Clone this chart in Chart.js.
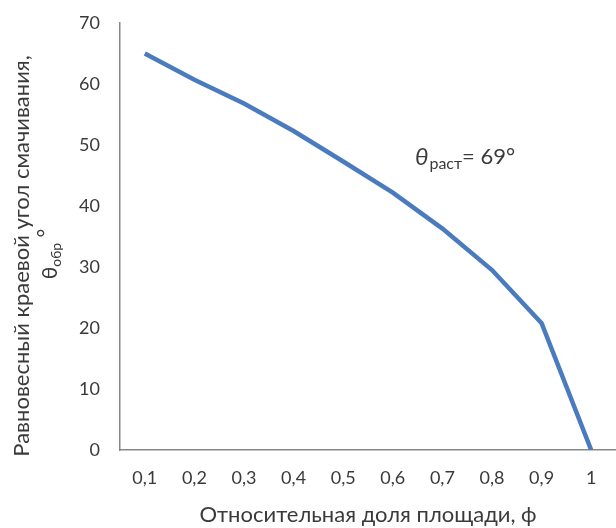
<!DOCTYPE html>
<html>
<head>
<meta charset="utf-8">
<script src="https://cdn.jsdelivr.net/npm/chart.js@4"></script>
<style>
  body { margin: 0; background: #fff; }
  #wrap { width: 616px; height: 528px; }
</style>
</head>
<body>
<div id="wrap"><canvas id="angle-chart" width="616" height="528"></canvas></div>
<script>
// доля площади (ось X)
const phiLabels = ['0,1', '0,2', '0,3', '0,4', '0,5', '0,6', '0,7', '0,8', '0,9', '1'];
// равновесный краевой угол, градусы
const thetaValues = [65, 60.7, 56.8, 52.3, 47.3, 42.2, 36.3, 29.5, 20.8, 0];
const yTicks = [0, 10, 20, 30, 40, 50, 60, 70];

const fontFam = 'Lato, "Open Sans", sans-serif';
const textColor = '#3a3a3a';
const axisColor = '#878787';

// подпись оси Y с подстрочным индексом и надпись θраст
const extraText = {
    id: 'extraText',
    afterDraw(chart) {
        const c = chart.ctx;
        c.save();
        c.fillStyle = textColor;
        c.textBaseline = 'middle';

        // строка 1
        c.save();
        c.translate(22, 256);
        c.rotate(-Math.PI / 2);
        c.font = '22px ' + fontFam;
        c.textAlign = 'center';
        c.fillText('Равновесный краевой угол смачивания,', 0, 0);
        c.restore();

        // строка 2: θобр °
        c.save();
        c.translate(50, 254);
        c.rotate(-Math.PI / 2);
        c.font = '21px ' + fontFam;
        const w1 = c.measureText('θ').width;
        c.font = '14px ' + fontFam;
        const w2 = c.measureText('обр').width;
        c.font = '21px ' + fontFam;
        const w3 = c.measureText(' °').width;
        let x = -(w1 + w2 + w3) / 2;
        c.textAlign = 'left';
        c.fillText('θ', x, 0);
        x += w1;
        c.font = '14px ' + fontFam;
        c.fillText('обр', x, 6);
        x += w2;
        c.font = '21px ' + fontFam;
        c.fillText(' °', x, -4);
        c.restore();

        // θраст = 69°
        let ax = 415, ay = 157;
        c.textAlign = 'left';
        c.font = 'italic 24px ' + fontFam;
        c.fillText('θ', ax, ay);
        ax += c.measureText('θ').width + 1;
        c.font = '16px ' + fontFam;
        c.fillText('раст', ax, ay + 7);
        ax += c.measureText('раст').width;
        c.font = '22px ' + fontFam;
        c.fillText('= 69°', ax, ay);
        c.restore();
    }
};

new Chart(document.getElementById('angle-chart'), {
    type: 'line',
    data: {
        labels: phiLabels,
        datasets: [{
            data: thetaValues,
            borderColor: '#4a7bbf',
            borderWidth: 4.5,
            pointRadius: 0,
            tension: 0,
            fill: false
        }]
    },
    options: {
        responsive: false,
        animation: false,
        layout: { padding: { top: 23, right: -4, left: 0, bottom: 0 } },
        plugins: {
            legend: { display: false },
            tooltip: { enabled: false }
        },
        scales: {
            x: {
                offset: true,
                grid: { display: false, drawTicks: false },
                border: { color: axisColor, width: 1.5 },
                ticks: { color: textColor, font: { family: fontFam, size: 18 }, padding: 17, maxRotation: 0 },
                title: {
                    display: true,
                    text: 'Относительная доля площади, ф',
                    color: textColor,
                    font: { family: fontFam, size: 22 },
                    padding: { top: 10, bottom: 0 }
                },
                afterFit: s => { s.height = 78; }
            },
            y: {
                min: 0,
                max: 70,
                afterBuildTicks: s => { s.ticks = yTicks.map(v => ({ value: v })); },
                grid: { display: false, drawTicks: false },
                border: { color: axisColor, width: 1.5 },
                ticks: { color: textColor, font: { family: fontFam, size: 18 }, padding: 20 },
                afterFit: s => {
                    s.width = 120;
                    s.paddingTop = 0;
                    s.paddingBottom = 0;
                }
            }
        }
    },
    plugins: [extraText]
});
</script>
</body>
</html>
